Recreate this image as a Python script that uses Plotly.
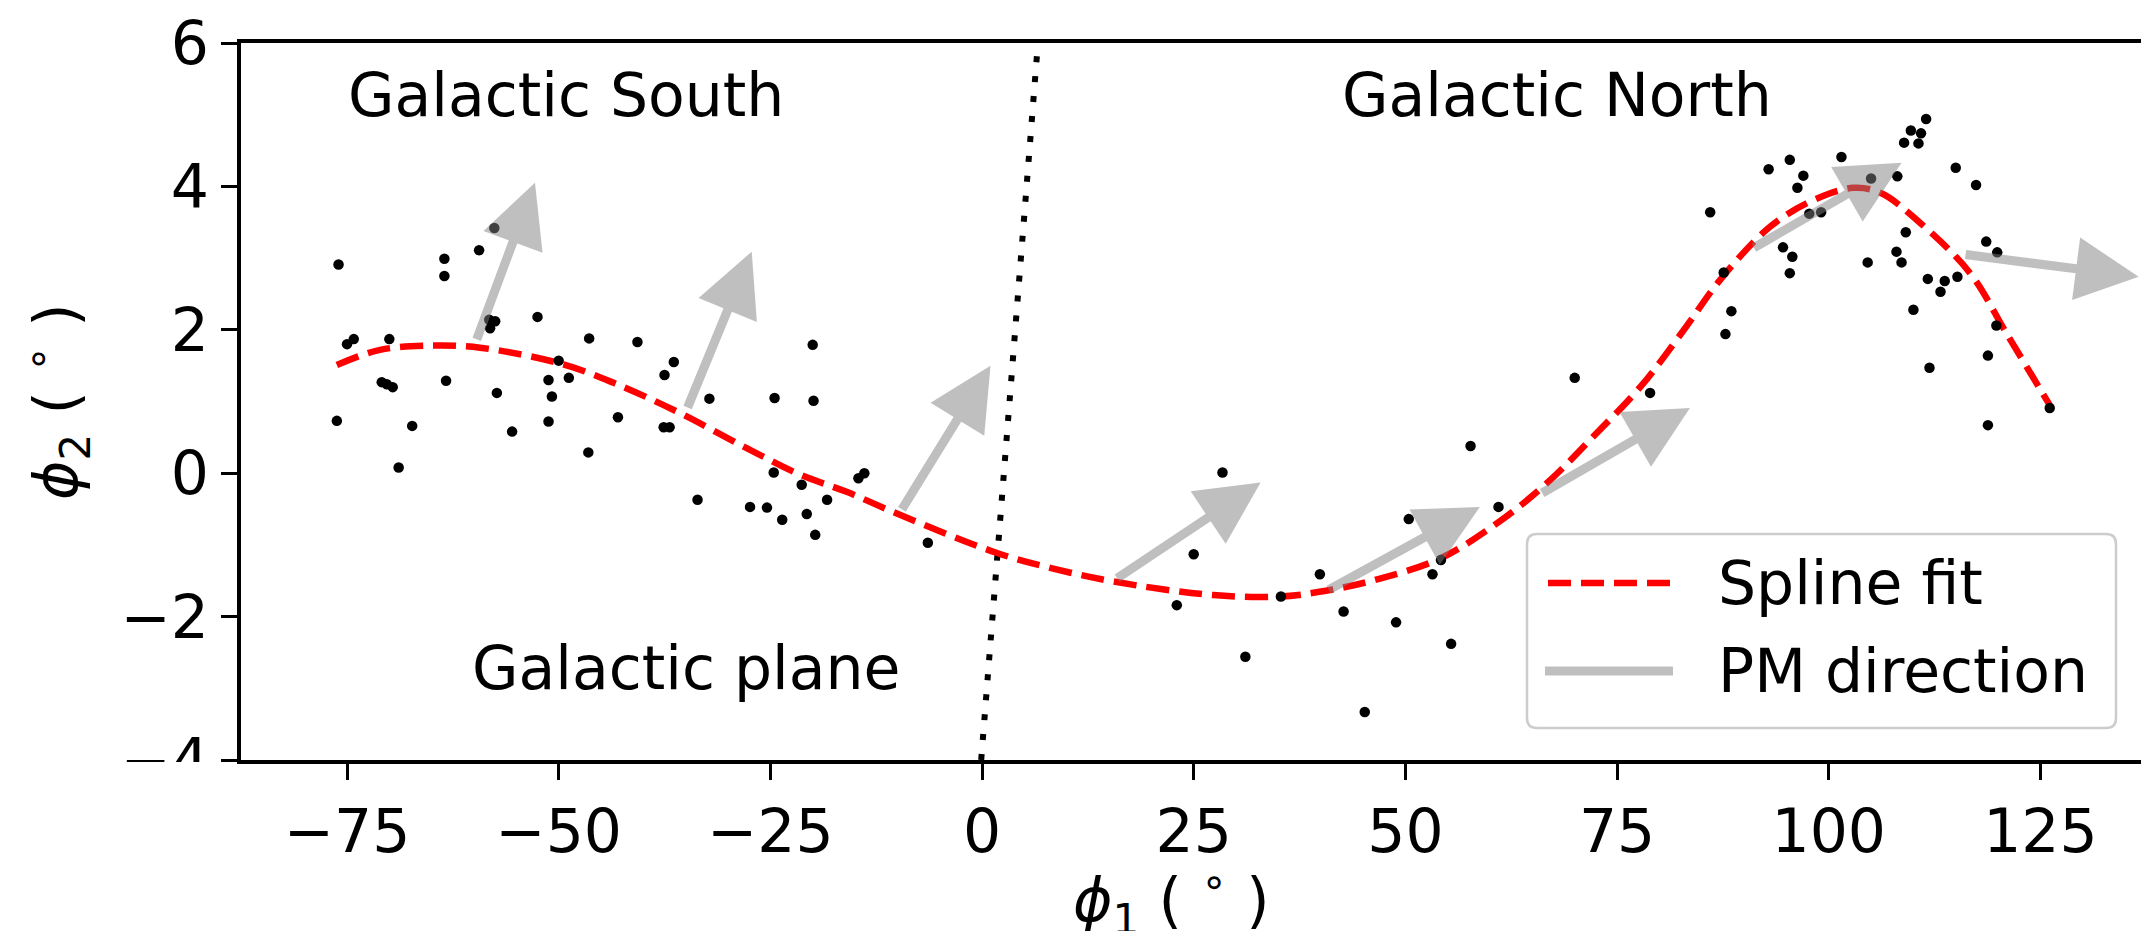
import plotly.graph_objects as go

# ---------------------------------------------------------------------------
# Data (degrees, stream-aligned frame)
# ---------------------------------------------------------------------------
member_phi1 = [
    -76.0, -63.5, -63.5, -59.4, -57.6, -58.2, -57.5, -58.1, -52.5, -75.0,
    -74.2, -70.0, -46.4, -40.7, -50.0, -36.4, -37.5, -70.9, -70.3, -69.6,
    -63.3, -51.2, -48.8, -57.3, -50.8, -32.2, -24.5, -76.2, -67.3, -51.2,
    -43.0, -37.6, -36.9, -55.5, -46.5, -68.9, -24.6, -21.3, -33.6, -27.4,
    -25.4, -23.6,
    -20.0, -19.9, -14.6, -13.9, -18.3, -20.7, -19.7, -6.4, 28.4, 25.0,
    23.0, 31.1, 35.3,
    70.0, 78.9, 57.7, 61.0, 50.4, 39.9, 54.2, 53.2, 42.7, 48.9, 55.4, 45.2,
    111.5, 109.7, 110.9, 108.9, 110.6, 101.5, 95.4, 92.9, 97.0, 96.3,
    105.0, 108.1, 115.0, 117.4, 86.0, 97.7, 99.1, 109.1, 94.6, 95.7,
    95.4, 104.6, 108.0, 108.6, 118.6, 119.9, 111.7, 113.7, 115.2, 113.2,
    87.6, 88.5, 87.8, 110.0, 119.8, 118.8, 111.9, 126.1, 118.8,
]
member_phi2 = [
    2.91, 2.99, 2.75, 3.11, 3.42, 2.14, 2.12, 2.02, 2.18, 1.80,
    1.87, 1.87, 1.88, 1.83, 1.57, 1.55, 1.37, 1.27, 1.24, 1.20,
    1.29, 1.30, 1.33, 1.12, 1.07, 1.04, 1.05, 0.73, 0.66, 0.72,
    0.78, 0.64, 0.64, 0.58, 0.29, 0.08, 0.01, -0.16, -0.37, -0.47,
    -0.48, -0.65,
    1.79, 1.01, -0.07, 0.00, -0.37, -0.57, -0.86, -0.97, 0.01, -1.13,
    -1.84, -2.56, -1.72,
    1.33, 1.12, 0.38, -0.47, -0.64, -1.41, -1.21, -1.41, -1.93, -2.08, -2.38, -3.33,
    4.94, 4.78, 4.74, 4.61, 4.60, 4.41, 4.37, 4.24, 4.15, 3.98,
    4.11, 4.14, 4.26, 4.02, 3.64, 3.62, 3.64, 3.36, 3.15, 3.02,
    2.79, 2.94, 3.09, 2.94, 3.23, 3.08, 2.71, 2.68, 2.74, 2.53,
    2.80, 2.26, 1.94, 2.28, 2.06, 1.64, 1.47, 0.91, 0.67,
]

# Spline track through the members
spline_phi1 = [
    -76.2, -71.1, -64.8, -59.3, -49.8, -43.5, -35.7, -27.8, -21.5, -16.0,
    -9.7, 1.7, 8.4, 15.5, 27.3, 35.2, 41.1, 47.0, 54.1, 60.8,
    66.7, 72.6, 77.8, 82.9, 87.2, 93.1, 98.2, 102.9, 106.1, 110.8,
    116.7, 121.0, 126.3,
]
spline_phi2 = [
    1.51, 1.72, 1.78, 1.75, 1.53, 1.26, 0.84, 0.35, -0.02, -0.26,
    -0.58, -1.11, -1.33, -1.51, -1.70, -1.72, -1.63, -1.47, -1.19, -0.70,
    -0.14, 0.56, 1.21, 2.00, 2.70, 3.44, 3.81, 3.98, 3.91, 3.49,
    2.79, 1.95, 0.91,
]

# Galactic plane (b = 0) in the stream frame
plane_phi1 = [-0.1, 6.6]
plane_phi2 = [-4.0, 6.0]

# Proper-motion direction arrows: tail -> tip
pm_tail_phi1 = [-59.7, -34.8, -9.5, 15.9, 40.9, 66.1, 91.1, 116.1]
pm_tail_phi2 = [1.86, 0.91, -0.51, -1.47, -1.63, -0.28, 3.14, 3.05]
pm_tip_phi1 = [-52.8, -27.2, 1.0, 32.9, 58.8, 83.6, 108.6, 136.6]
pm_tip_phi2 = [4.05, 3.09, 1.50, -0.13, -0.47, 0.91, 4.33, 2.74]

# Region labels
region_text = ["Galactic South", "Galactic North", "Galactic plane"]
region_phi1 = [-75.0, 42.4, -60.3]
region_phi2 = [5.0, 5.0, -3.0]

x_ticks = [-75, -50, -25, 0, 25, 50, 75, 100, 125]
y_ticks = [-4, -2, 0, 2, 4, 6]

# ---------------------------------------------------------------------------
# Canvas geometry
# ---------------------------------------------------------------------------
W, H = 2141, 931
ML, MR, MT, MB = 241, 0, 43, 171
X_RANGE = [-87.52, 136.88]
Y_RANGE = [-4, 6]
FONT = "DejaVu Sans"
FS = 60


def px_to_paper_x(px):
    return (px - ML) / (W - ML - MR)


def px_to_paper_y(py):
    return (H - MB - py) / (H - MT - MB)


def minus(v):
    return str(v).replace("-", "\u2212")


fig = go.Figure()

fig.add_trace(go.Scatter(
    x=plane_phi1, y=plane_phi2, mode="lines",
    line=dict(color="black", width=6, dash="6px,14px"),
    hoverinfo="skip", showlegend=False,
))

fig.add_trace(go.Scatter(
    x=spline_phi1, y=spline_phi2, mode="lines",
    line=dict(color="#ff0000", width=6.5, dash="23px,10px", shape="spline", smoothing=1.0),
    name="Spline fit", showlegend=False,
))

fig.add_trace(go.Scatter(
    x=member_phi1, y=member_phi2, mode="markers",
    marker=dict(color="black", size=10.5, line=dict(width=0)),
    showlegend=False,
))

annotations = []

# proper-motion arrows
for x0, y0, x1, y1 in zip(pm_tail_phi1, pm_tail_phi2, pm_tip_phi1, pm_tip_phi2):
    annotations.append(dict(
        x=x1, y=y1, ax=x0, ay=y0,
        xref="x", yref="y", axref="x", ayref="y",
        text="", showarrow=True,
        arrowhead=2, arrowsize=1.4, arrowwidth=9,
        arrowcolor="rgba(128,128,128,0.5)",
        standoff=0, startstandoff=0,
        font=dict(size=1), borderpad=0,
    ))

# region labels (baseline at the given phi2)
for txt, x, y in zip(region_text, region_phi1, region_phi2):
    annotations.append(dict(
        x=x, y=y, xref="x", yref="y", text=txt, showarrow=False,
        xanchor="left", yanchor="middle", yshift=20, borderpad=0,
        font=dict(family=FONT, size=FS, color="black"),
    ))

# axis titles
annotations.append(dict(
    x=px_to_paper_x(1171), y=px_to_paper_y(900), xref="paper", yref="paper",
    text="<i>\u03d5</i><sub>1</sub> ( <sup>\u2218</sup> )", showarrow=False,
    xanchor="center", yanchor="middle", borderpad=0,
    font=dict(family=FONT, size=FS, color="black"),
))
annotations.append(dict(
    x=px_to_paper_x(57), y=px_to_paper_y(402), xref="paper", yref="paper",
    text="<i>\u03d5</i><sub>2</sub> ( <sup>\u2218</sup> )", showarrow=False,
    textangle=-90, xanchor="center", yanchor="middle", borderpad=0,
    font=dict(family=FONT, size=FS, color="black"),
))

# legend
LEG = dict(x0=1527, x1=2116, y0=534, y1=728, r=10)
leg_rows = [
    ("Spline fit", 583, dict(color="#ff0000", width=6.5, dash="23px,10px"), 1548, 1672),
    ("PM direction", 671, dict(color="#bfbfbf", width=9), 1545, 1673),
]
for label, cy, _, _, _ in leg_rows:
    annotations.append(dict(
        x=px_to_paper_x(1717), y=px_to_paper_y(cy), xref="paper", yref="paper",
        text=label, showarrow=False, xanchor="left", yanchor="middle", borderpad=0,
        font=dict(family=FONT, size=FS, color="black"),
    ))


def rounded_rect_path(x0, y0, x1, y1, r):
    fx, fy = px_to_paper_x, px_to_paper_y
    pts = [
        f"M{fx(x0 + r)},{fy(y0)}",
        f"L{fx(x1 - r)},{fy(y0)}",
        f"Q{fx(x1)},{fy(y0)} {fx(x1)},{fy(y0 + r)}",
        f"L{fx(x1)},{fy(y1 - r)}",
        f"Q{fx(x1)},{fy(y1)} {fx(x1 - r)},{fy(y1)}",
        f"L{fx(x0 + r)},{fy(y1)}",
        f"Q{fx(x0)},{fy(y1)} {fx(x0)},{fy(y1 - r)}",
        f"L{fx(x0)},{fy(y0 + r)}",
        f"Q{fx(x0)},{fy(y0)} {fx(x0 + r)},{fy(y0)}",
        "Z",
    ]
    return " ".join(pts)


shapes = [
    dict(type="path", xref="paper", yref="paper", layer="above",
         path=rounded_rect_path(LEG["x0"], LEG["y0"], LEG["x1"], LEG["y1"], LEG["r"]),
         fillcolor="rgba(255,255,255,0.8)", line=dict(color="#cccccc", width=2.5)),
    # hides the lower part of the bottom y tick label under the x axis
    dict(type="rect", xref="paper", yref="paper", layer="above",
         x0=px_to_paper_x(0), x1=px_to_paper_x(222),
         y0=px_to_paper_y(762), y1=px_to_paper_y(830),
         fillcolor="white", line=dict(width=0)),
]
for _, cy, ln, lx0, lx1 in leg_rows:
    shapes.append(dict(type="line", xref="paper", yref="paper", layer="above",
                       x0=px_to_paper_x(lx0), x1=px_to_paper_x(lx1),
                       y0=px_to_paper_y(cy), y1=px_to_paper_y(cy), line=ln))

fig.update_layout(
    width=W, height=H,
    margin=dict(l=ML, r=MR, t=MT, b=MB, pad=0),
    paper_bgcolor="white", plot_bgcolor="white",
    font=dict(family=FONT, size=FS, color="black"),
    showlegend=False,
    annotations=annotations,
    shapes=shapes,
    xaxis=dict(
        range=X_RANGE, showgrid=False, zeroline=False,
        showline=True, linecolor="black", linewidth=4, mirror=True,
        ticks="outside", ticklen=16, tickwidth=3, tickcolor="black",
        tickvals=x_ticks, ticktext=[minus(v) for v in x_ticks],
        tickfont=dict(family=FONT, size=FS, color="black"),
    ),
    yaxis=dict(
        range=Y_RANGE, showgrid=False, zeroline=False,
        showline=True, linecolor="black", linewidth=4, mirror=False,
        ticks="outside", ticklen=16, tickwidth=3, tickcolor="black",
        tickvals=y_ticks, ticktext=[minus(v) for v in y_ticks],
        tickfont=dict(family=FONT, size=FS, color="black"),
    ),
)

fig.write_html("out.html")
